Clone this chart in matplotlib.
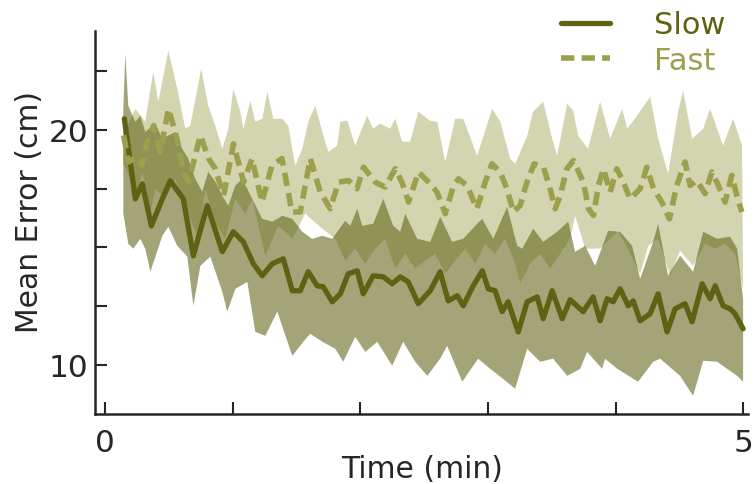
import numpy as np
import matplotlib.pyplot as plt

# mean lines (time in min, error in cm)
slow_t = [0.149, 0.235, 0.290, 0.361, 0.447, 0.509, 0.611, 0.690, 0.799, 0.917,
          1.003, 1.082, 1.160, 1.230, 1.309, 1.395, 1.466, 1.528, 1.591, 1.661,
          1.708, 1.779, 1.842, 1.904, 1.975, 2.022, 2.100, 2.179, 2.249, 2.312,
          2.375, 2.453, 2.547, 2.625, 2.688, 2.759, 2.806, 2.884, 2.955, 3.002,
          3.056, 3.111, 3.158, 3.237, 3.307, 3.386, 3.433, 3.503, 3.582, 3.644,
          3.746, 3.824, 3.879, 3.934, 3.981, 4.036, 4.099, 4.138, 4.193, 4.271,
          4.334, 4.404, 4.467, 4.545, 4.600, 4.679, 4.741, 4.781, 4.843, 4.898,
          4.937, 5.000]
slow_mean = [20.47, 17.06, 17.70, 15.91, 17.06, 17.83, 17.06, 14.64, 16.77, 14.81,
             15.66, 15.23, 14.30, 13.79, 14.30, 14.51, 13.15, 13.15, 13.96, 13.36,
             13.32, 12.68, 13.02, 13.87, 14.00, 13.02, 13.79, 13.74, 13.45, 13.74,
             13.53, 12.60, 13.15, 13.96, 12.72, 12.94, 12.51, 13.36, 14.00, 13.23,
             13.15, 12.26, 12.68, 11.40, 12.68, 12.89, 11.96, 13.15, 11.96, 12.77,
             12.26, 12.89, 11.87, 12.81, 12.68, 13.23, 12.51, 12.72, 11.87, 12.17,
             13.02, 11.40, 12.38, 12.60, 11.83, 13.45, 12.81, 13.36, 12.51, 12.38,
             12.17, 11.53]

fast_t = [0.143, 0.183, 0.248, 0.288, 0.327, 0.379, 0.431, 0.496, 0.562, 0.614,
          0.653, 0.745, 0.810, 0.862, 0.927, 1.005, 1.084, 1.150, 1.228, 1.306,
          1.385, 1.463, 1.528, 1.607, 1.685, 1.763, 1.828, 1.907, 1.973, 2.024,
          2.116, 2.194, 2.273, 2.325, 2.377, 2.455, 2.534, 2.600, 2.665, 2.730,
          2.769, 2.835, 2.913, 2.978, 3.031, 3.096, 3.148, 3.200, 3.252, 3.305,
          3.362, 3.435, 3.487, 3.527, 3.566, 3.618, 3.670, 3.748, 3.788, 3.827,
          3.866, 3.905, 3.958, 4.010, 4.062, 4.114, 4.193, 4.245, 4.297, 4.363,
          4.422, 4.480, 4.545, 4.585, 4.637, 4.702, 4.755, 4.806, 4.859, 4.911,
          4.951, 4.990]
fast_mean = [19.76, 18.63, 18.84, 18.48, 19.48, 20.18, 19.05, 20.89, 19.62, 18.20,
             17.77, 19.76, 18.77, 18.34, 17.20, 19.40, 17.77, 18.77, 16.92, 18.48,
             18.77, 16.50, 16.50, 18.77, 17.35, 16.64, 17.77, 17.84, 17.49, 18.41,
             17.77, 17.56, 18.34, 17.77, 16.92, 18.20, 17.77, 17.35, 16.43, 17.63,
             17.91, 17.63, 16.64, 17.77, 18.55, 18.20, 17.49, 16.50, 16.78, 17.77,
             18.55, 18.41, 17.49, 16.64, 17.20, 18.34, 18.69, 17.77, 16.64, 16.35,
             17.63, 18.34, 17.35, 18.34, 17.77, 17.06, 17.49, 18.41, 17.49, 16.92,
             16.21, 17.63, 18.63, 17.63, 17.84, 17.28, 18.20, 17.63, 16.92, 18.06,
             17.20, 16.50]

# band edges
fast_hi_t = [0.141, 0.180, 0.235, 0.313, 0.376, 0.415, 0.494, 0.564, 0.627, 0.666,
             0.752, 0.807, 0.862, 0.917, 0.964, 1.003, 1.058, 1.082, 1.137, 1.176,
             1.231, 1.270, 1.317, 1.387, 1.434, 1.489, 1.544, 1.591, 1.646, 1.701,
             1.748, 1.818, 1.842, 1.897, 1.959, 2.053, 2.100, 2.155, 2.233, 2.273,
             2.327, 2.390, 2.453, 2.547, 2.602, 2.665, 2.743, 2.806, 2.915, 3.033,
             3.096, 3.174, 3.213, 3.307, 3.354, 3.433, 3.503, 3.542, 3.621, 3.668,
             3.707, 3.785, 3.879, 3.958, 4.052, 4.091, 4.169, 4.271, 4.334, 4.412,
             4.491, 4.530, 4.600, 4.687, 4.741, 4.843, 4.922, 4.992]
fast_hi = [19.62, 20.26, 20.89, 20.34, 22.47, 21.19, 23.36, 21.74, 20.04, 20.17,
           22.60, 21.02, 20.17, 19.19, 20.04, 21.74, 20.77, 20.04, 21.23, 20.34,
           20.47, 21.62, 20.47, 20.47, 20.17, 18.47, 19.19, 20.34, 21.02, 19.91,
           19.06, 19.32, 20.34, 20.38, 19.32, 20.60, 20.04, 20.26, 20.04, 20.47,
           19.49, 19.49, 20.77, 20.38, 20.34, 18.64, 20.47, 20.47, 18.89, 20.89,
           20.34, 18.77, 18.55, 19.74, 20.77, 21.19, 19.62, 18.89, 21.11, 20.81,
           19.74, 19.19, 21.19, 19.62, 20.89, 20.04, 20.60, 21.40, 19.62, 18.13,
           20.77, 21.66, 19.62, 20.04, 20.89, 19.32, 20.47, 19.32]

fast_lo_t = [0.141, 0.180, 0.235, 0.290, 0.353, 0.392, 0.470, 0.549, 0.650, 0.729,
             0.784, 0.862, 0.940, 1.019, 1.097, 1.152, 1.254, 1.356, 1.466, 1.567,
             1.701, 1.803, 1.881, 1.959, 2.038, 2.116, 2.194, 2.273, 2.351, 2.429,
             2.508, 2.586, 2.665, 2.743, 2.821, 2.900, 2.978, 3.056, 3.135, 3.213,
             3.252, 3.331, 3.409, 3.487, 3.566, 3.644, 3.683, 3.762, 3.879, 3.958,
             4.020, 4.114, 4.193, 4.256, 4.334, 4.428, 4.506, 4.608, 4.702, 4.781,
             4.859, 4.937, 5.000]
fast_lo = [18.55, 18.13, 17.06, 18.21, 16.43, 17.49, 17.06, 17.91, 16.43, 15.36,
           17.49, 16.00, 15.36, 17.06, 16.43, 17.06, 14.64, 15.91, 15.36, 16.43,
           15.79, 15.36, 14.43, 14.94, 14.30, 14.94, 15.36, 14.09, 14.72, 14.09,
           14.43, 14.72, 13.87, 14.43, 14.94, 14.30, 15.15, 14.72, 15.36, 14.30,
           13.45, 14.30, 14.72, 14.09, 14.72, 15.36, 16.34, 14.94, 14.94, 15.36,
           15.70, 14.72, 13.87, 15.06, 15.36, 13.79, 14.85, 14.21, 15.15, 14.94,
           15.15, 14.72, 13.23]

slow_hi_t = [0.141, 0.157, 0.180, 0.235, 0.274, 0.313, 0.392, 0.447, 0.549, 0.603,
             0.650, 0.705, 0.760, 0.807, 0.862, 0.917, 0.964, 1.019, 1.074, 1.152,
             1.230, 1.309, 1.387, 1.466, 1.544, 1.622, 1.701, 1.779, 1.881, 1.920,
             1.975, 2.014, 2.100, 2.179, 2.257, 2.312, 2.351, 2.445, 2.547, 2.625,
             2.719, 2.806, 2.915, 2.955, 3.041, 3.150, 3.229, 3.268, 3.354, 3.433,
             3.542, 3.629, 3.683, 3.762, 3.840, 3.942, 4.036, 4.130, 4.193, 4.295,
             4.334, 4.412, 4.506, 4.608, 4.687, 4.796, 4.898, 4.953, 5.000]
slow_hi = [20.89, 23.23, 21.02, 20.34, 20.60, 19.91, 20.26, 19.62, 19.91, 19.19,
           18.77, 17.91, 17.36, 18.21, 17.79, 17.19, 16.77, 17.62, 17.91, 17.06,
           16.21, 16.09, 16.34, 16.21, 15.66, 15.36, 15.49, 15.36, 16.13, 15.91,
           16.64, 15.91, 16.00, 17.06, 15.91, 15.66, 16.43, 15.36, 15.23, 16.30,
           15.23, 15.36, 16.00, 16.21, 15.36, 16.72, 15.06, 14.94, 15.79, 15.23,
           15.66, 16.09, 14.81, 15.06, 14.21, 15.70, 15.66, 15.06, 13.66, 15.23,
           16.00, 13.79, 14.64, 13.96, 15.66, 15.36, 15.45, 14.94, 12.81]

slow_lo_t = [0.141, 0.180, 0.219, 0.274, 0.313, 0.353, 0.447, 0.494, 0.564, 0.643,
             0.690, 0.745, 0.823, 0.917, 0.956, 1.019, 1.113, 1.176, 1.254, 1.348,
             1.466, 1.552, 1.607, 1.701, 1.803, 1.865, 1.959, 2.038, 2.132, 2.249,
             2.335, 2.429, 2.524, 2.625, 2.680, 2.798, 2.923, 3.017, 3.119, 3.213,
             3.307, 3.409, 3.511, 3.621, 3.723, 3.777, 3.895, 3.918, 4.013, 4.177,
             4.295, 4.350, 4.506, 4.608, 4.687, 4.796, 4.953, 5.000]
slow_lo = [16.43, 15.15, 14.94, 15.36, 14.94, 13.96, 15.49, 15.87, 15.06, 14.60,
           12.51, 14.21, 14.60, 13.11, 12.26, 13.23, 13.53, 11.40, 11.23, 12.26,
           10.38, 10.98, 11.32, 10.98, 10.68, 10.13, 11.19, 10.55, 10.98, 9.96,
           10.98, 10.13, 9.53, 10.26, 10.81, 9.28, 10.26, 9.83, 9.40, 8.98,
           10.68, 10.13, 10.26, 9.53, 9.83, 10.55, 9.83, 10.26, 9.83, 9.28,
           10.13, 10.26, 9.53, 8.68, 10.17, 10.13, 9.53, 9.28]

slow_color = '#5e6213'
fast_color = '#9ba04c'
ink = '#262626'

plt.rcParams['font.family'] = 'DejaVu Sans'
fig = plt.figure(figsize=(7.55, 4.85), dpi=100)
ax = fig.add_axes([0.126, 0.144, 0.865, 0.790])


def band(ax, t_hi, hi, t_lo, lo, color, alpha):
    xs = np.concatenate([t_hi, t_lo[::-1]])
    ys = np.concatenate([hi, lo[::-1]])
    ax.fill(xs, ys, color=color, alpha=alpha, lw=0)


band(ax, np.array(fast_hi_t), np.array(fast_hi), np.array(fast_lo_t), np.array(fast_lo), fast_color, 0.44)
band(ax, np.array(slow_hi_t), np.array(slow_hi), np.array(slow_lo_t), np.array(slow_lo), slow_color, 0.57)

ax.plot(slow_t, slow_mean, color=slow_color, lw=3.8, solid_capstyle='round', label='Slow')
ax.plot(fast_t, fast_mean, color=fast_color, lw=4, ls=(0, (2.4, 1.3)), label='Fast')

ax.set_xlim(-0.08, 5.04)
ax.set_ylim(7.9, 24.2)
ax.set_xticks(range(6))
ax.set_xticklabels(['0', '', '', '', '', '5'])
ax.set_yticks([10, 12.5, 15, 17.5, 20, 22.5])
ax.set_yticklabels(['10', '', '', '', '20', ''])

for s in ['top', 'right']:
    ax.spines[s].set_visible(False)
for s in ['left', 'bottom']:
    ax.spines[s].set_linewidth(1.8)
    ax.spines[s].set_color(ink)
ax.tick_params(direction='in', length=8.5, width=1.5, color=ink,
               labelcolor=ink, labelsize=22.5)
ax.tick_params(axis='x', pad=10)
ax.tick_params(axis='y', pad=5)
ax.set_xlabel('Time (min)', fontsize=21.5, color=ink, labelpad=-2)
ax.set_ylabel('Mean Error (cm)', fontsize=21.5, color=ink)
ax.yaxis.set_label_coords(-0.078, 0.53)

fig.legend(loc='upper right', bbox_to_anchor=(0.981, 1.008), frameon=False,
           fontsize=22, labelcolor='linecolor', borderpad=0, handlelength=1.6,
           handletextpad=1.45, labelspacing=0.2)

fig.savefig('out.png', dpi=100)
